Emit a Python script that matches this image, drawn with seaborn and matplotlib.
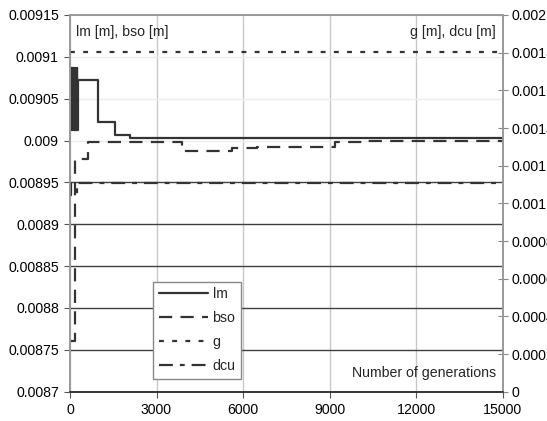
import numpy as np
import pandas as pd
import matplotlib
matplotlib.use("Agg")
import matplotlib.pyplot as plt
import seaborn as sns

# values
lm_gen = [0, 60, 80, 100, 120, 140, 160, 180, 200, 220, 240, 260, 280, 970, 1560, 2080, 15000]
lm_val = [0.009087, 0.009013, 0.009087, 0.009013, 0.009087, 0.009013, 0.009087,
          0.009013, 0.009087, 0.009013, 0.009087, 0.009013, 0.0090723,
          0.0090225, 0.0090066, 0.0090027, 0.0090027]

bso_gen = [0, 180, 620, 3880, 5620, 6490, 9190, 10130, 15000]
bso_val = [0.00876, 0.008978, 0.008998, 0.0089875, 0.0089908, 0.0089927,
           0.008998, 0.0089998, 0.0089998]

g_gen = [0, 15000]
g_val = [0.001805, 0.001805]

dcu_gen = [0, 40, 230, 15000]
dcu_val = [0.0011055, 0.001044, 0.0011055, 0.0011055]

x_ticks = [0, 3000, 6000, 9000, 12000, 15000]
left_ticks = [0.0087, 0.00875, 0.0088, 0.00885, 0.0089, 0.00895, 0.009, 0.00905, 0.0091, 0.00915]
left_labels = ["0.0087", "0.00875", "0.0088", "0.00885", "0.0089", "0.00895",
               "0.009", "0.00905", "0.0091", "0.00915"]
right_ticks = [0, 0.0002, 0.0004, 0.0006, 0.0008, 0.001, 0.0012, 0.0014, 0.0016, 0.0018, 0.002]
right_labels = ["0", "0.0002", "0.0004", "0.0006", "0.0008", "0.001",
                "0.0012", "0.0014", "0.0016", "0.0018", "0.002"]

sns.set_theme(style="white")
plt.rcParams["font.family"] = ["Liberation Sans", "DejaVu Sans"]
plt.rcParams["lines.scale_dashes"] = False

line_col = "#333333"
fs = 10.2

fig = plt.figure(figsize=(5.47, 4.21), dpi=100)
ax = fig.add_axes([70 / 547, 1 - 391.7 / 421, 432.5 / 547, 376.7 / 421])
ax2 = ax.twinx()

sns.lineplot(x=lm_gen, y=lm_val, ax=ax, drawstyle="steps-post", color=line_col,
             lw=1.6, label="lm", legend=False)
sns.lineplot(x=bso_gen, y=bso_val, ax=ax, drawstyle="steps-post", color=line_col,
             lw=1.6, linestyle=(0, (9.5, 6)), label="bso", legend=False)
sns.lineplot(x=g_gen, y=g_val, ax=ax2, drawstyle="steps-post", color=line_col,
             lw=1.6, linestyle=(0, (3.5, 6)), label="g", legend=False)
sns.lineplot(x=dcu_gen, y=dcu_val, ax=ax2, drawstyle="steps-post", color=line_col,
             lw=1.6, linestyle=(0, (10, 5, 3.5, 5)), label="dcu", legend=False)

ax.set_xlim(0, 15000)
ax.set_ylim(0.0087, 0.00915)
ax2.set_ylim(0, 0.002)

ax.set_xticks(x_ticks)
ax.set_xticklabels([str(t) for t in x_ticks], fontsize=fs)
ax.set_yticks(left_ticks)
ax.set_yticklabels(left_labels, fontsize=fs)
ax2.set_yticks(right_ticks)
ax2.set_yticklabels(right_labels, fontsize=fs)

ax.set_xlabel("")
ax.set_ylabel("")
ax2.set_ylabel("")

# grid: light verticals, darker horizontals in the lower part
ax.grid(True, axis="x", color="#c8c8c8", lw=1)
ax.grid(True, axis="y", lw=1)
for gl, t in zip(ax.get_ygridlines(), left_ticks):
    gl.set_color("#404040" if t < 0.00896 else "#ececec")
ax.set_axisbelow(True)

ax.tick_params(axis="both", which="major", direction="out", length=4, width=0.8,
               color="#555555", colors="black", left=True, bottom=True, pad=4)
ax2.tick_params(axis="y", direction="inout", length=7, width=0.8, color="#888888",
                colors="black", right=True, pad=3)

for sp in ["left", "top", "right"]:
    ax.spines[sp].set_color("#999999")
    ax2.spines[sp].set_color("#999999")
ax.spines["bottom"].set_color("#333333")
ax2.spines["bottom"].set_color("#333333")
for sp in ax.spines.values():
    sp.set_linewidth(1.2)
for sp in ax2.spines.values():
    sp.set_linewidth(1.2)

ax.text(0.013, 0.955, "lm [m], bso [m]", transform=ax.transAxes, fontsize=fs,
        ha="left", va="center")
ax2.text(0.985, 0.955, "g [m], dcu [m]", transform=ax2.transAxes, fontsize=fs,
         ha="right", va="center")
ax2.text(0.985, 0.05, "Number of generations", transform=ax2.transAxes, fontsize=fs,
         ha="right", va="center")

h1, l1 = ax.get_legend_handles_labels()
h2, l2 = ax2.get_legend_handles_labels()
leg = ax2.legend(h1 + h2, l1 + l2, loc="upper left", bbox_to_anchor=(0.192, 0.292),
                 fontsize=fs, handlelength=3.5, handletextpad=0.3, labelspacing=0.7,
                 frameon=True, fancybox=False, borderaxespad=0, borderpad=0.4)
leg.get_frame().set_edgecolor("#888888")
leg.get_frame().set_linewidth(1.0)
leg.get_frame().set_facecolor("white")
leg.get_frame().set_alpha(1)

fig.savefig("out.png", dpi=100)
